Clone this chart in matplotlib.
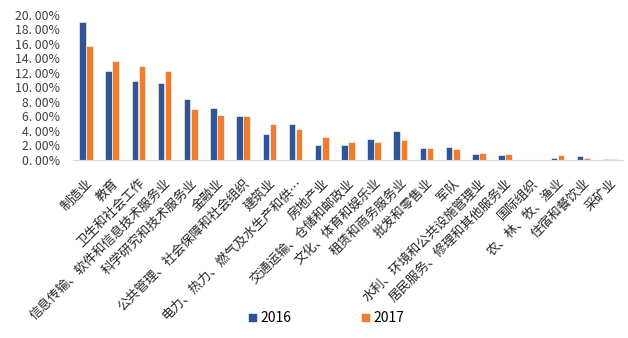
import numpy as np
import matplotlib
matplotlib.use("Agg")
import matplotlib.pyplot as plt
from matplotlib.ticker import FuncFormatter

plt.rcParams['font.family'] = ['Noto Sans CJK SC', 'DejaVu Sans']

# Industries (share of employment destination)
industries = [
    "制造业", "教育", "卫生和社会工作", "信息传输、软件和信息技术服务业",
    "科学研究和技术服务业", "金融业", "公共管理、社会保障和社会组织", "建筑业",
    "电力、热力、燃气及水生产和供…", "房地产业", "交通运输、仓储和邮政业",
    "文化、体育和娱乐业", "租赁和商务服务业", "批发和零售业", "军队",
    "水利、环境和公共设施管理业", "居民服务、修理和其他服务业", "国际组织",
    "农、林、牧、渔业", "住宿和餐饮业", "采矿业",
]
share_2016 = [19.0, 12.3, 10.9, 10.6, 8.4, 7.2, 6.0, 3.5, 4.9, 2.0, 2.1,
              2.9, 4.0, 1.6, 1.8, 0.8, 0.7, 0.0, 0.3, 0.55, 0.18]
share_2017 = [15.7, 13.6, 12.9, 12.2, 7.0, 6.2, 6.0, 5.0, 4.3, 3.2, 2.45,
              2.45, 2.7, 1.6, 1.5, 1.0, 0.8, 0.05, 0.65, 0.28, 0.14]
years = ["2016", "2017"]
colors = ["#2F5597", "#ED7D31"]

fig = plt.figure(figsize=(6.28, 3.38), dpi=100)
ax = fig.add_axes([0.116, 0.527, 0.876, 0.429])

x = np.arange(len(industries))
w = 0.25
ax.bar(x - w / 2 - 0.01, share_2016, w, color=colors[0], edgecolor="white", linewidth=0.4, label=years[0])
ax.bar(x + w / 2 + 0.01, share_2017, w, color=colors[1], edgecolor="white", linewidth=0.4, label=years[1])

ax.set_xlim(-0.5, len(industries) - 0.5)
ax.set_ylim(0, 20)
ax.set_yticks(np.arange(0, 21, 2))
ax.yaxis.set_major_formatter(FuncFormatter(lambda v, p: f"{v:.2f}%".replace(".", ". ")))

ax.set_xticks(x)
ax.set_xticklabels(industries, rotation=45, ha="right", rotation_mode="anchor", fontsize=9.3)
ax.tick_params(axis="x", length=0, pad=12)
ax.tick_params(axis="y", length=0, labelsize=8.8, pad=9, colors="#404040")
for lab in ax.get_xticklabels():
    lab.set_color("#262626")

for s in ["top", "right", "left"]:
    ax.spines[s].set_visible(False)
ax.spines["bottom"].set_color("#D9D9D9")

fig.legend(loc="lower center", bbox_to_anchor=(0.52, 0.0), ncol=2, frameon=False,
           fontsize=10, handlelength=0.6, handleheight=0.6, handletextpad=0.3,
           columnspacing=5.0)

fig.savefig("out.png", dpi=100)
